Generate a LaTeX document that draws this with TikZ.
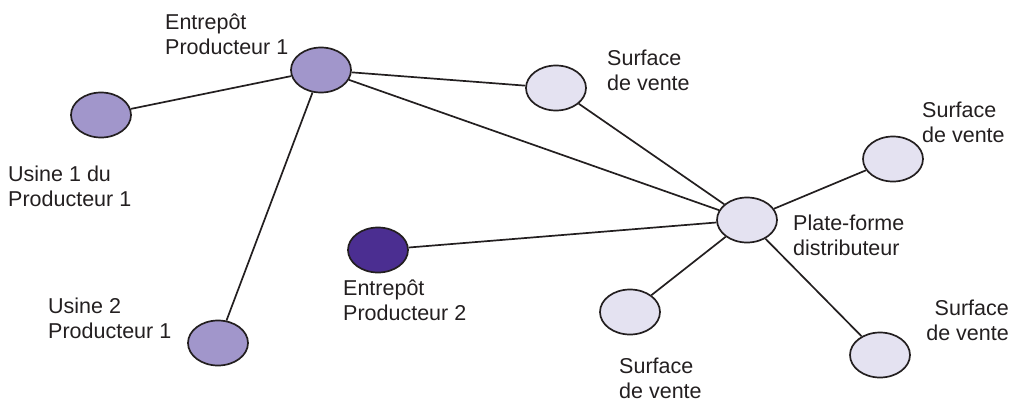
\documentclass[tikz,border=0pt]{standalone}
\usepackage{fontspec}
\setmainfont{Liberation Sans}
\usetikzlibrary{shapes.geometric}
\definecolor{lightpurple}{RGB}{161,150,203}
\definecolor{darkpurple}{RGB}{75,46,145}
\definecolor{palepurple}{RGB}{228,226,241}
\definecolor{ink}{RGB}{35,31,32}
\tikzset{
  site/.style={ellipse, draw=ink, line width=1.7pt, minimum width=60pt, minimum height=45pt, inner sep=0pt},
  factory/.style={site, fill=lightpurple},
  depot/.style={site, fill=darkpurple},
  shop/.style={site, fill=palepurple},
  link/.style={draw=ink, line width=1.7pt},
  lbl/.style={anchor=base west, inner sep=0pt, align=left, font=\fontsize{21.5}{25}\selectfont, text=ink},
  lblr/.style={anchor=base east, inner sep=0pt, align=right, font=\fontsize{21.5}{25}\selectfont, text=ink}
}
\begin{document}
\begin{tikzpicture}[x=1pt, y=-1pt]
\useasboundingbox (0,0) rectangle (1015,402);
% sites
\node[factory] (ep1) at (321,70) {};
\node[factory] (u1) at (101,115) {};
\node[factory] (u2) at (218,343) {};
\node[depot] (ep2) at (378,250) {};
\node[shop] (pf) at (747,220) {};
\node[shop] (s1) at (556,88) {};
\node[shop] (s2) at (893,159) {};
\node[shop] (s3) at (630,312) {};
\node[shop] (s4) at (880,355) {};
% links
\draw[link] (ep1) -- (u1);
\draw[link] (ep1) -- (s1);
\draw[link] (ep1) -- (pf);
\draw[link] (ep1) -- (u2);
\draw[link] (s1) -- (pf);
\draw[link] (pf) -- (s2);
\draw[link] (pf) -- (ep2);
\draw[link] (pf) -- (s3);
\draw[link] (pf) -- (s4);
% labels (anchored at the baseline of the last line)
\node[lbl] (tep1) at (165,54) {Entrepôt\\Producteur 1};
\node[lbl] (tu1) at (8,206) {Usine 1 du\\Producteur 1};
\node[lbl] (tu2) at (48,338) {Usine 2\\Producteur 1};
\node[lbl] (tep2) at (343,320) {Entrepôt\\Producteur 2};
\node[lbl] (tpf) at (793,255) {Plate-forme\\distributeur};
\node[lbl] (ts1) at (607,90) {Surface\\de vente};
\node[lbl] (ts2) at (922,142) {Surface\\de vente};
\node[lbl] (ts3) at (619,398) {Surface\\de vente};
\node[lblr] (ts4) at (1009,340) {Surface\\de vente};
\end{tikzpicture}
\end{document}
